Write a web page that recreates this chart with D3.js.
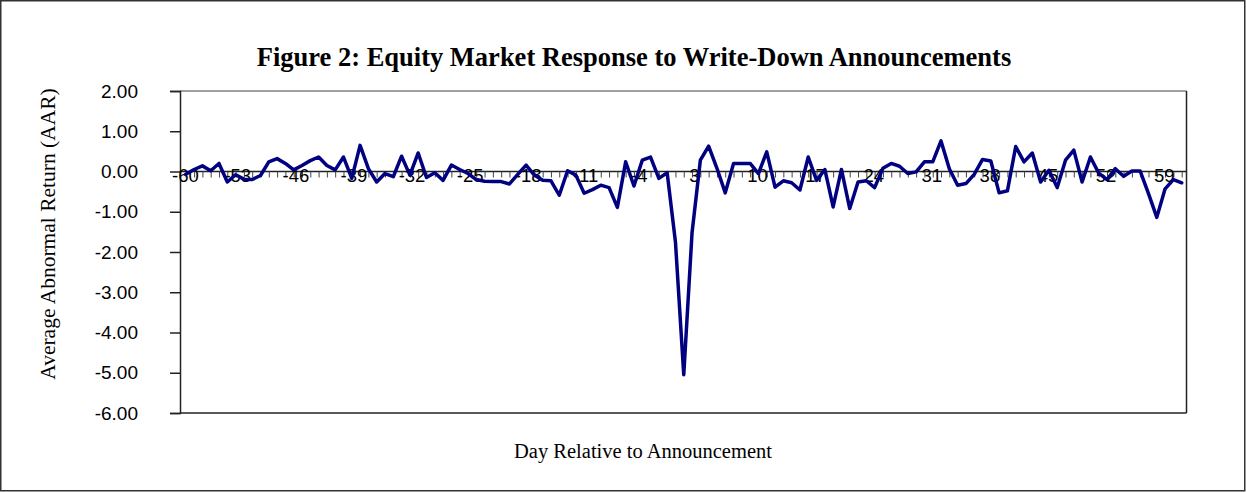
<!DOCTYPE html>
<html>
<head>
<meta charset="utf-8">
<script src="https://cdn.jsdelivr.net/npm/d3@7"></script>
<style>
  html, body { margin: 0; padding: 0; background: #fff; }
  svg { display: block; }
</style>
</head>
<body>
<svg id="chart" width="1246" height="492"></svg>
<script>
// Event window, days relative to the announcement
const days = d3.range(-60, 61);

// Average abnormal return (%) for each day of the window
const aar = [
  -0.07, 0.05, 0.14, 0.02, 0.20, -0.26, -0.08, -0.19, -0.20, -0.10,
   0.24, 0.32, 0.20, 0.04, 0.15, 0.27, 0.36, 0.15, 0.04, 0.36,
  -0.17, 0.65, 0.07, -0.26, -0.05, -0.13, 0.38, -0.09, 0.46, -0.15,
  -0.03, -0.22, 0.16, 0.05, -0.05, -0.20, -0.24, -0.25, -0.25, -0.31,
  -0.07, 0.16, -0.09, -0.22, -0.23, -0.59, 0.02, -0.09, -0.54, -0.45,
  -0.34, -0.40, -0.89, 0.24, -0.36, 0.28, 0.36, -0.17, -0.03, -1.75,
  -5.05, -1.52, 0.28, 0.63, 0.08, -0.53, 0.20, 0.20, 0.20, -0.05,
   0.49, -0.39, -0.23, -0.28, -0.46, 0.36, -0.22, 0.05, -0.88, 0.05,
  -0.92, -0.26, -0.23, -0.40, 0.08, 0.20, 0.13, -0.05, -0.01, 0.24,
   0.24, 0.76, 0.07, -0.34, -0.30, -0.07, 0.30, 0.26, -0.53, -0.48,
   0.62, 0.24, 0.46, -0.26, 0.03, -0.40, 0.28, 0.53, -0.26, 0.36,
  -0.04, -0.20, 0.07, -0.12, 0.01, 0.01, -0.55, -1.14, -0.43, -0.20,
  -0.28
];

// Value axis ticks
const yTicks = [2, 1, 0, -1, -2, -3, -4, -5, -6];
// Category labels shown every seventh day
const xLabelDays = days.filter(d => (d + 60) % 7 === 0);

const titleText = "Figure 2: Equity Market Response to Write-Down Announcements";
const yTitleText = "Average Abnormal Return (AAR)";
const xTitleText = "Day Relative to Announcement";

const svg = d3.select("#chart");
const W = 1246, H = 492;
const plot = { left: 180, right: 1186.5, top: 91, bottom: 413 };

const x = d3.scaleLinear().domain([-60, 60]).range([185.8, 1181.7]);
const y = d3.scaleLinear().domain([-6, 2]).range([plot.bottom, plot.top]);

const sans = "'Liberation Sans', Arial, sans-serif";
const serif = "'Liberation Serif', 'Times New Roman', serif";

// outer chart frame
svg.append("rect")
  .attr("x", 0.75).attr("y", 0.75)
  .attr("width", W - 2).attr("height", H - 2)
  .attr("fill", "#fff").attr("stroke", "#333").attr("stroke-width", 1.5);

// plot area border: grey top, dark right and bottom
svg.append("line")
  .attr("x1", plot.left).attr("x2", plot.right)
  .attr("y1", plot.top).attr("y2", plot.top)
  .attr("stroke", "#808080").attr("stroke-width", 1.5);
svg.append("line")
  .attr("x1", plot.right).attr("x2", plot.right)
  .attr("y1", plot.top).attr("y2", plot.bottom)
  .attr("stroke", "#222").attr("stroke-width", 1.5);
svg.append("line")
  .attr("x1", plot.left).attr("x2", plot.right)
  .attr("y1", plot.bottom).attr("y2", plot.bottom)
  .attr("stroke", "#222").attr("stroke-width", 1.5);

// value axis
const yAxis = d3.axisLeft(y)
  .tickValues(yTicks)
  .tickSize(10)
  .tickPadding(32)
  .tickFormat(d => d.toFixed(2));
const yG = svg.append("g")
  .attr("transform", `translate(${plot.left},0)`)
  .call(yAxis);
yG.select(".domain").attr("stroke", "#222").attr("stroke-width", 1.5);
yG.selectAll(".tick line").attr("stroke", "#222").attr("stroke-width", 1.5);
yG.selectAll(".tick text")
  .attr("font-family", sans).attr("font-size", 19).attr("fill", "#000");

// category axis crossing at zero
const xAxis = d3.axisBottom(x)
  .tickValues(days)
  .tickSize(6)
  .tickFormat("");
const xG = svg.append("g")
  .attr("transform", `translate(0,${y(0)})`)
  .call(xAxis);
xG.select(".domain")
  .attr("d", `M${plot.left},0H${plot.right}`)
  .attr("stroke", "#222").attr("stroke-width", 1.5);
xG.selectAll(".tick line").attr("stroke", "#444").attr("stroke-width", 1);

// category labels
svg.append("g").selectAll("text")
  .data(xLabelDays)
  .join("text")
  .attr("x", d => Math.max(x(d) - 19.5, 172))
  .attr("y", y(0) + 10)
  .attr("font-family", sans).attr("font-size", 18.5)
  .attr("fill", "#000")
  .text(d => d);

// AAR series
const line = d3.line()
  .x((d, i) => x(days[i]))
  .y(d => y(d));
svg.append("path")
  .datum(aar)
  .attr("d", line)
  .attr("fill", "none")
  .attr("stroke", "#000080")
  .attr("stroke-width", 3.5)
  .attr("stroke-linejoin", "round")
  .attr("stroke-linecap", "round");

// titles
svg.append("text")
  .attr("x", 634).attr("y", 66)
  .attr("text-anchor", "middle")
  .attr("font-family", serif).attr("font-weight", "bold").attr("font-size", 26.5)
  .text(titleText);

svg.append("text")
  .attr("transform", `translate(55,234) rotate(-90)`)
  .attr("text-anchor", "middle")
  .attr("font-family", serif).attr("font-size", 21.5)
  .text(yTitleText);

svg.append("text")
  .attr("x", 643).attr("y", 458)
  .attr("text-anchor", "middle")
  .attr("font-family", serif).attr("font-size", 20.5)
  .text(xTitleText);
</script>
</body>
</html>
